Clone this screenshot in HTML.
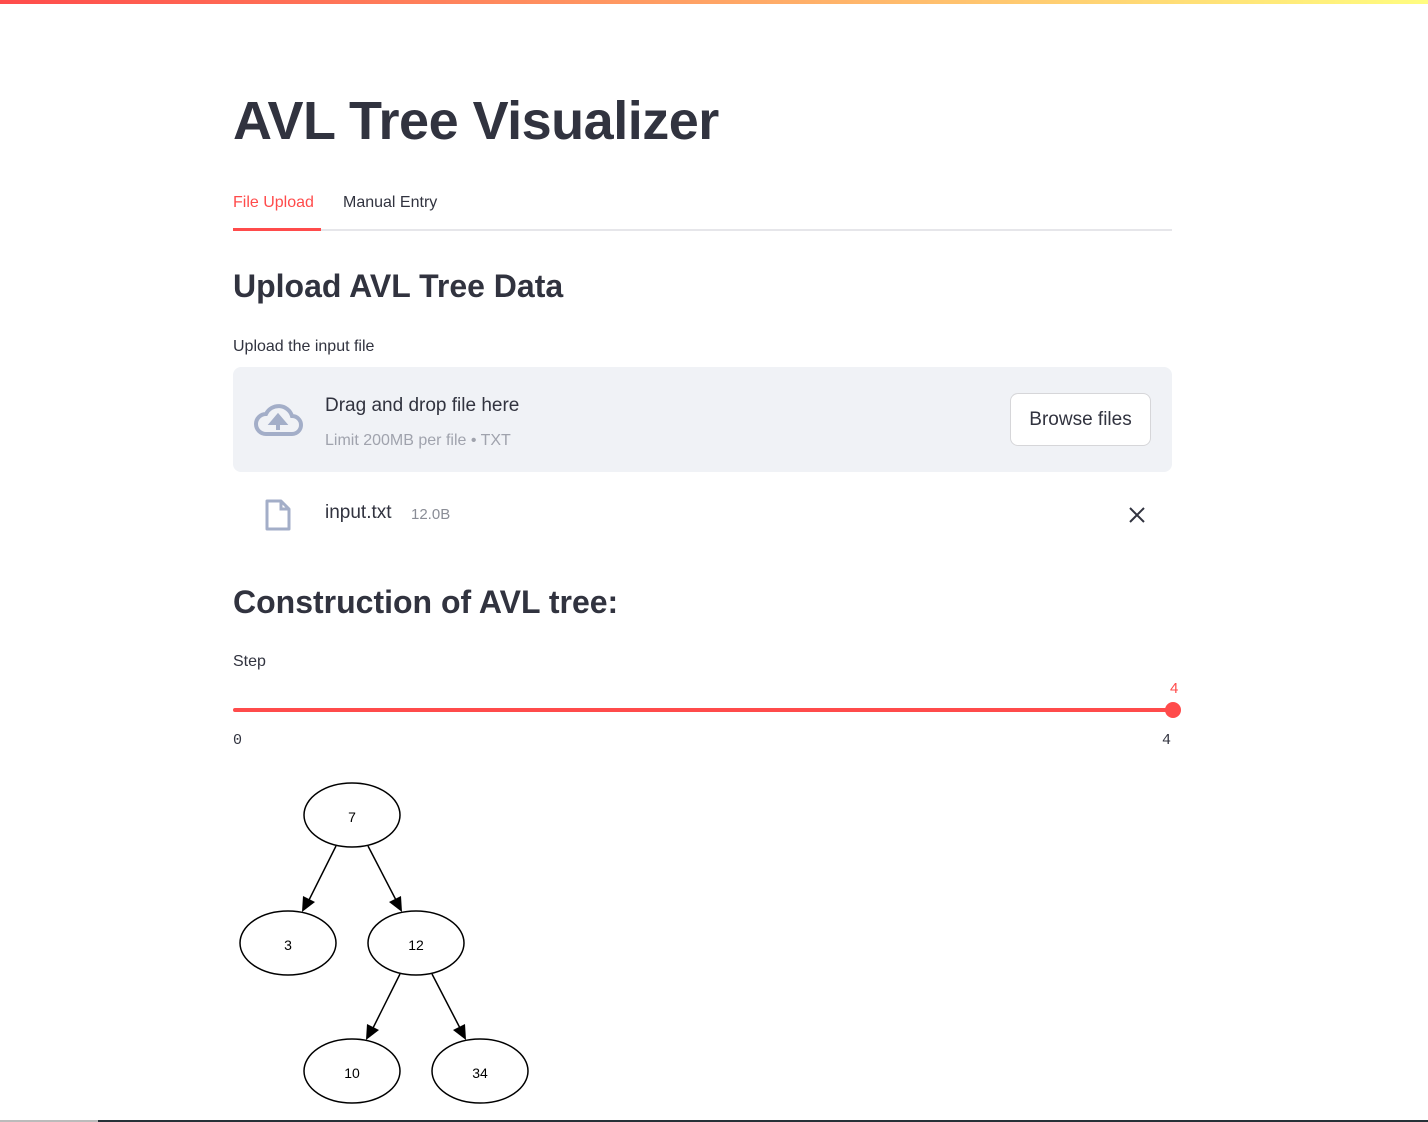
<!DOCTYPE html>
<html><head><meta charset="utf-8"><style>
body{margin:0;width:1428px;height:1122px;background:#fff;position:relative;overflow:hidden;font-family:"Liberation Sans",sans-serif;color:#31333f}
.a{position:absolute;white-space:nowrap}
</style></head><body>
<div class="a" style="left:0;top:0;width:1428px;height:4px;background:linear-gradient(90deg,#ff4b4b,#fffd80)"></div>
<div class="a" style="left:233px;top:90px;font-size:54px;font-weight:bold;letter-spacing:-0.5px">AVL Tree Visualizer</div>
<div class="a" style="left:233px;top:194px;font-size:16px;color:#ff4b4b">File Upload</div>
<div class="a" style="left:343px;top:194px;font-size:16px">Manual Entry</div>
<div class="a" style="left:233px;top:229px;width:939px;height:2px;background:#e6e6ea"></div>
<div class="a" style="left:233px;top:228px;width:88px;height:3px;background:#ff4b4b"></div>
<div class="a" style="left:233px;top:268px;font-size:32px;font-weight:bold">Upload AVL Tree Data</div>
<div class="a" style="left:233px;top:338px;font-size:16px">Upload the input file</div>
<div class="a" style="left:233px;top:367px;width:939px;height:105px;background:#f0f2f6;border-radius:8px"></div>
<svg class="a" style="left:252px;top:400px" width="52" height="38" viewBox="0 0 52 38"><path d="M14 34 H40 A9 9 0 0 0 40 16 A14 14 0 0 0 14 14 A10 10 0 0 0 14 34Z" fill="none" stroke="#a3aec8" stroke-width="4"/><path d="M26 30 V21 M20 23 L26 16 L32 23Z" stroke="#a3aec8" stroke-width="4" fill="#a3aec8"/></svg>
<div class="a" style="left:325px;top:395px;font-size:19px">Drag and drop file here</div>
<div class="a" style="left:325px;top:432px;font-size:16px;color:#a0a3ad">Limit 200MB per file • TXT</div>
<div class="a" style="left:1010px;top:393px;width:139px;height:51px;border:1px solid #d6d6d9;border-radius:8px;background:#fff;font-size:19px;line-height:51px;text-align:center">Browse files</div>
<svg class="a" style="left:264px;top:498px" width="28" height="34"><path d="M3 3 H17 L25 11 V31 H3Z" fill="none" stroke="#a3aec8" stroke-width="3" stroke-linejoin="round"/><path d="M17 3 V11 H25" fill="none" stroke="#a3aec8" stroke-width="3"/></svg>
<div class="a" style="left:325px;top:502px;font-size:19px">input.txt</div>
<div class="a" style="left:411px;top:506px;font-size:15px;color:#8a8d96">12.0B</div>
<svg class="a" style="left:1128px;top:506px" width="18" height="18"><path d="M2 2 L16 16 M16 2 L2 16" stroke="#31333f" stroke-width="2"/></svg>
<div class="a" style="left:233px;top:584px;font-size:32px;font-weight:bold">Construction of AVL tree:</div>
<div class="a" style="left:233px;top:653px;font-size:16px">Step</div>
<div class="a" style="left:1170px;top:680px;font-size:15px;color:#ff4b4b">4</div>
<div class="a" style="left:233px;top:708px;width:940px;height:4px;background:#ff4b4b;border-radius:2px"></div>
<div class="a" style="left:1165px;top:702px;width:16px;height:16px;border-radius:50%;background:#ff4b4b"></div>
<div class="a" style="left:233px;top:732px;font-size:15px;font-family:'Liberation Mono',monospace">0</div>
<div class="a" style="left:1162px;top:732px;font-size:15px;font-family:'Liberation Mono',monospace">4</div>
<svg class="a" style="left:0;top:0" width="1428" height="1122">
<g fill="none" stroke="#000" stroke-width="1.5">
<ellipse cx="352" cy="815" rx="48" ry="32"/><ellipse cx="288" cy="943" rx="48" ry="32"/><ellipse cx="416" cy="943" rx="48" ry="32"/><ellipse cx="352" cy="1071" rx="48" ry="32"/><ellipse cx="480" cy="1071" rx="48" ry="32"/>
<line x1="336" y1="846" x2="308" y2="902"/><line x1="368" y1="846" x2="397" y2="902"/><line x1="400" y1="974" x2="372" y2="1030"/><line x1="432" y1="974" x2="461" y2="1030"/>
</g>
<g fill="#000"><path d="M302 912 L303 896 L315 902Z"/><path d="M402 912 L389 902 L401 896Z"/><path d="M366 1040 L367 1024 L379 1030Z"/><path d="M466 1040 L453 1030 L465 1024Z"/></g>
<g font-family="Liberation Sans,sans-serif" font-size="14" text-anchor="middle" fill="#000"><text x="352" y="822">7</text><text x="288" y="950">3</text><text x="416" y="950">12</text><text x="352" y="1078">10</text><text x="480" y="1078">34</text></g>
</svg>
<div class="a" style="left:0;top:1120px;width:98px;height:2px;background:#bbb"></div>
<div class="a" style="left:98px;top:1120px;width:1330px;height:2px;background:#263238"></div>
</body></html>
